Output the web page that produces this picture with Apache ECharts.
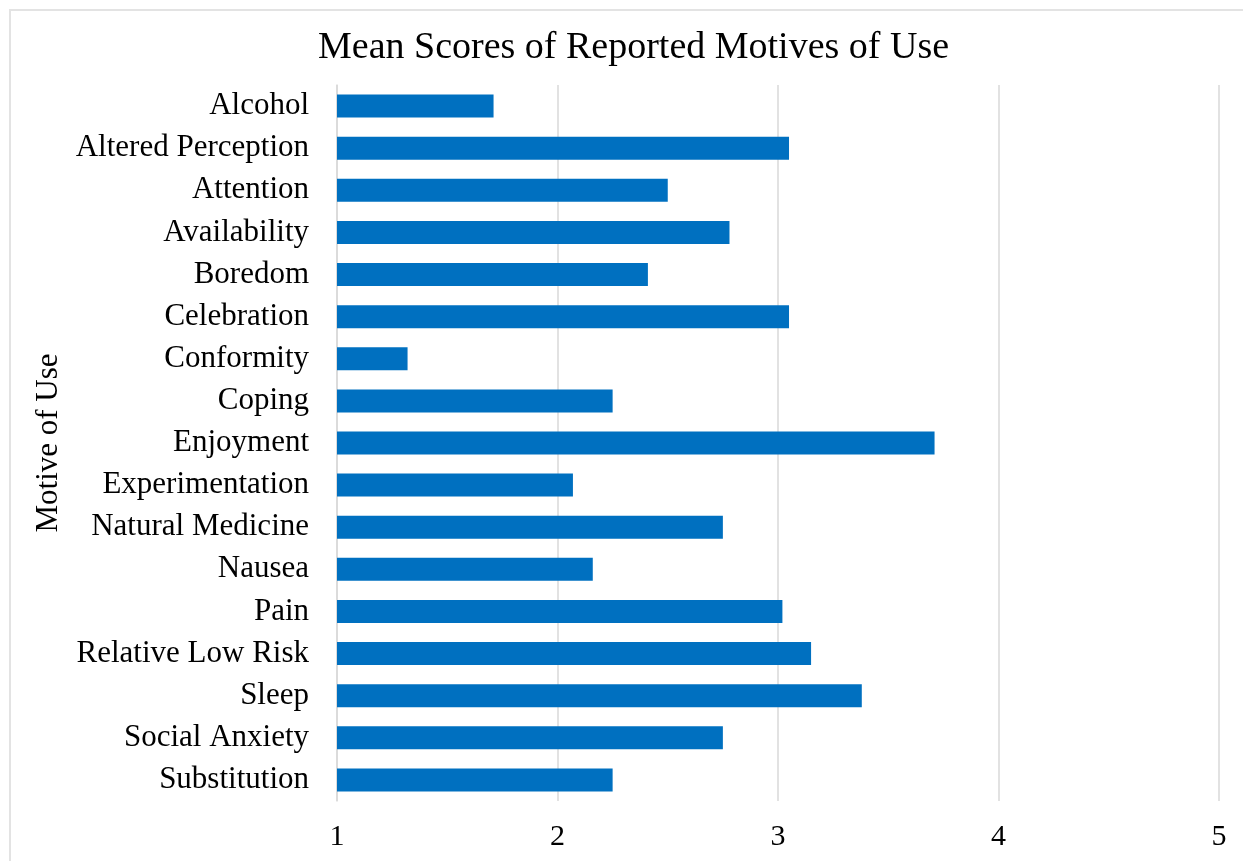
<!DOCTYPE html>
<html>
<head>
<meta charset="utf-8">
<script src="https://cdn.jsdelivr.net/npm/echarts@6/dist/echarts.min.js"></script>
<style>
html,body{margin:0;padding:0;background:#fff;}
#frame{position:absolute;left:9px;top:9px;width:1250px;height:870px;border:2px solid #e3e3e3;box-sizing:border-box;}
#chart{position:absolute;left:0;top:0;width:1243px;height:861px;}
</style>
</head>
<body>
<div id="frame"></div>
<div id="chart"></div>
<script>
const categories = ["Alcohol","Altered Perception","Attention","Availability","Boredom","Celebration","Conformity","Coping","Enjoyment","Experimentation","Natural Medicine","Nausea","Pain","Relative Low Risk","Sleep","Social Anxiety","Substitution"];
const meanScores = [1.71,3.05,2.50,2.78,2.41,3.05,1.32,2.25,3.71,2.07,2.75,2.16,3.02,3.15,3.38,2.75,2.25];
const titleText = "Mean Scores of Reported Motives of Use";
const yAxisName = "Motive of Use";
const xMin = 1, xMax = 5, xInterval = 1;

const font = "'Liberation Serif','Times New Roman',serif";
const chart = echarts.init(document.getElementById('chart'), null, {renderer:'canvas'});
chart.setOption({
  backgroundColor: 'transparent',
  animation: false,
  title: {
    text: titleText,
    left: 313,
    top: 24,
    textStyle: {fontFamily: font, fontSize: 38, fontWeight: 'normal', color: '#000'}
  },
  grid: {left: 337, right: 24, top: 85, bottom: 60, containLabel: false},
  xAxis: {
    type: 'value',
    min: xMin, max: xMax, interval: xInterval,
    axisLine: {show: false},
    axisTick: {show: false},
    splitLine: {show: true, lineStyle: {color: '#d9d9d9', width: 1.5}},
    axisLabel: {fontFamily: font, fontSize: 30, color: '#000', margin: 21}
  },
  yAxis: {
    type: 'category',
    data: categories,
    inverse: true,
    name: yAxisName,
    nameLocation: 'middle',
    nameGap: 268,
    nameRotate: 90,
    nameTextStyle: {fontFamily: font, fontSize: 31, color: '#000'},
    axisLine: {show: true, lineStyle: {color: '#d9d9d9', width: 1.5}},
    axisTick: {show: false},
    axisLabel: {fontFamily: font, fontSize: 31, color: '#000', margin: 28, padding: [4, 0, 0, 0]}
  },
  series: [{
    type: 'bar',
    data: meanScores,
    barWidth: 23,
    itemStyle: {color: '#0070C0'}
  }]
});
</script>
</body>
</html>
